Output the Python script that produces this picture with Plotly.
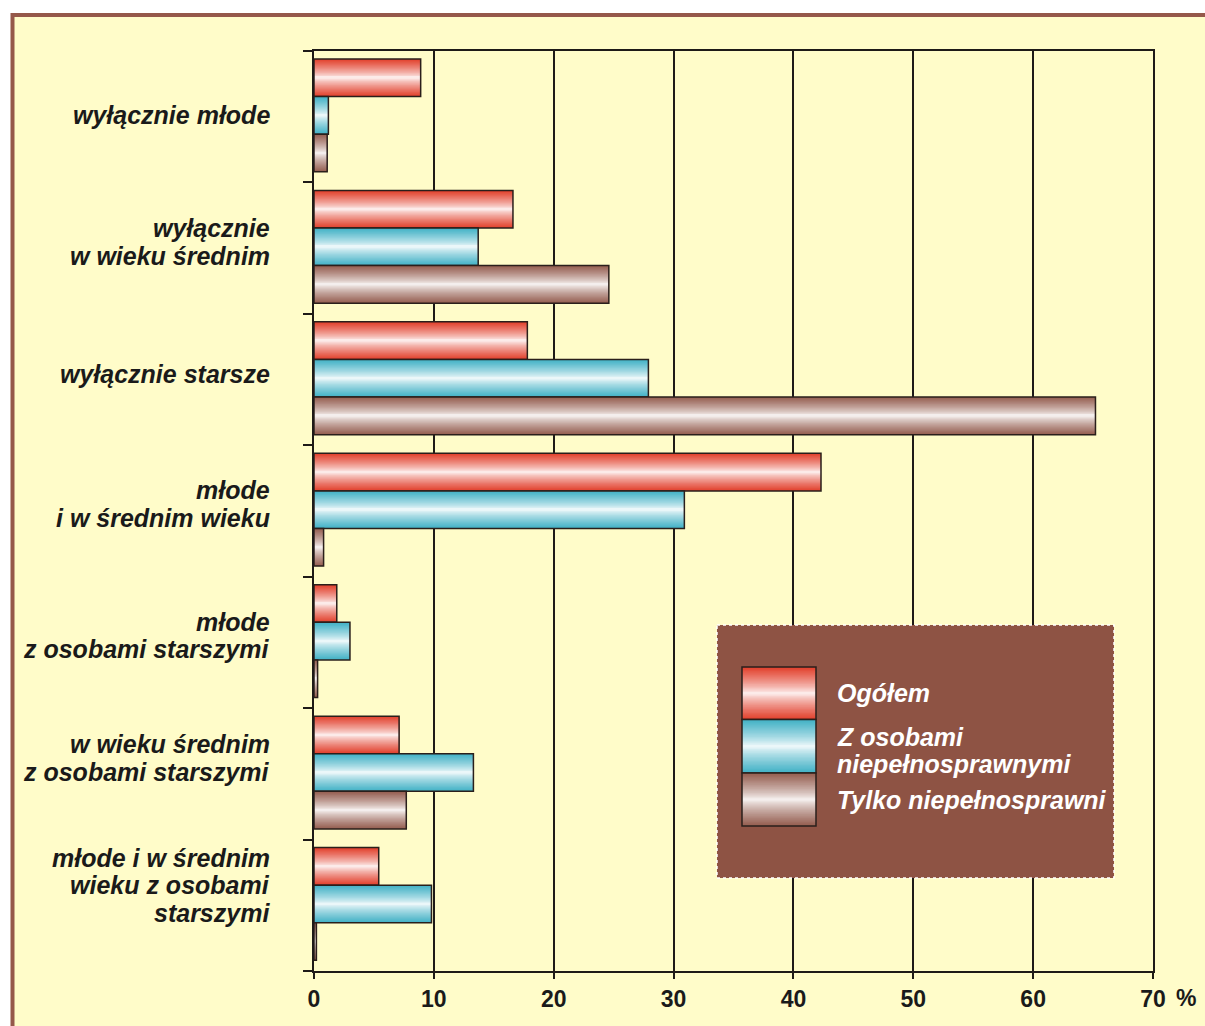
import plotly.graph_objects as go

# data (percent of households)
categories = [
    ["wyłącznie młode"],
    ["wyłącznie", "w wieku średnim"],
    ["wyłącznie starsze"],
    ["młode", "i w średnim wieku"],
    ["młode", "z osobami starszymi"],
    ["w wieku średnim", "z osobami starszymi"],
    ["młode i w średnim", "wieku z osobami", "starszymi"],
]
ogolem = [8.9, 16.6, 17.8, 42.3, 1.9, 7.1, 5.4]
z_niepelnosprawnymi = [1.2, 13.7, 27.9, 30.9, 3.0, 13.3, 9.8]
tylko_niepelnosprawni = [1.1, 24.6, 65.2, 0.8, 0.3, 7.7, 0.2]

series_names = ["Ogółem", "Z osobami niepełnosprawnymi", "Tylko niepełnosprawni"]
x_ticks = [0, 10, 20, 30, 40, 50, 60, 70]

# styling
EDGE_COLORS = [(226, 66, 46), (68, 178, 198), (150, 96, 82)]
OUTLINE = "#2a1f1b"
AXIS = "#1e1a17"
BG = "#fffcc9"
FRAME = "#95584a"
LEGEND_BG = "#8e5344"
FONT = "Liberation Sans, Arial, sans-serif"
N_LAYERS = 20
BAR_W = 0.286
FIRST_OFFSET = -0.439

W, H = 1205, 1026
L, R, T, B = 314, 52, 51, 55


def px_x(p):
    return (p - L) / (W - L - R)


def px_y(p):
    return (H - B - p) / (H - T - B)


def shade(rgb, d):
    # d: 0 at the middle of the bar (white), 1 at the edge (full colour)
    m = d ** 0.75
    r, g, b = [round(255 * (1 - m) + c * m) for c in rgb]
    return f"rgb({r},{g},{b})"


fig = go.Figure()
ypos = list(range(len(categories)))

# cylinder look: nested bars, each one thinner and lighter than the last
for j, values in enumerate([ogolem, z_niepelnosprawnymi, tylko_niepelnosprawni]):
    center = FIRST_OFFSET + j * BAR_W + BAR_W / 2
    for k in range(N_LAYERS):
        frac = 1 - k / N_LAYERS
        wk = BAR_W * frac
        fig.add_trace(go.Bar(
            x=values, y=ypos, orientation="h",
            width=wk, offset=center - wk / 2,
            marker=dict(color=shade(EDGE_COLORS[j], frac), line=dict(width=0)),
            showlegend=False, hoverinfo="skip",
        ))
    fig.add_trace(go.Bar(
        x=values, y=ypos, orientation="h",
        width=BAR_W, offset=center - BAR_W / 2,
        marker=dict(color="rgba(0,0,0,0)", line=dict(width=1.5, color=OUTLINE)),
        name=series_names[j], showlegend=False,
    ))

# category labels, one annotation per line so line spacing matches
label_shift = [-2, -6, -6, -7, -7, -16, -20]
LINE_H = 27.5
for i, lines in enumerate(categories):
    n = len(lines)
    for li, txt in enumerate(lines):
        fig.add_annotation(
            x=0, xref="paper", xanchor="right", xshift=-42,
            y=i, yref="y", yanchor="middle",
            yshift=-(label_shift[i] + (li - (n - 1) / 2) * LINE_H),
            text=txt, showarrow=False,
            font=dict(family=FONT, size=25, color="#1a1a1a", weight="bold", style="italic"),
        )

# "%" after the last x tick label
fig.add_annotation(
    x=70, xref="x", y=0, yref="paper", xshift=33, yshift=-27,
    xanchor="center", yanchor="middle",
    text="%", showarrow=False,
    font=dict(family=FONT, size=23, color="#1a1a1a", weight="bold"),
)

shapes = []
# page frame
shapes.append(dict(
    type="rect", xref="paper", yref="paper", layer="below",
    x0=px_x(12.5), x1=px_x(W + 20), y0=px_y(15), y1=px_y(H + 20),
    fillcolor=BG, line=dict(color=FRAME, width=4),
))
# legend box
shapes.append(dict(
    type="rect", xref="paper", yref="paper", layer="above",
    x0=px_x(717), x1=px_x(1114), y0=px_y(625), y1=px_y(878),
    fillcolor=LEGEND_BG, line=dict(color="white", width=1.5, dash="dot"),
))
sw_top = [667, 719.5, 773]
sw_h = [52.5, 53.5, 53]
for j in range(3):
    mid = sw_top[j] + sw_h[j] / 2
    for k in range(N_LAYERS):
        frac = 1 - k / N_LAYERS
        hh = sw_h[j] * frac / 2
        shapes.append(dict(
            type="rect", xref="paper", yref="paper", layer="above",
            x0=px_x(742), x1=px_x(816), y0=px_y(mid - hh), y1=px_y(mid + hh),
            fillcolor=shade(EDGE_COLORS[j], frac), line=dict(width=0),
        ))
    shapes.append(dict(
        type="rect", xref="paper", yref="paper", layer="above",
        x0=px_x(742), x1=px_x(816), y0=px_y(sw_top[j]), y1=px_y(sw_top[j] + sw_h[j]),
        fillcolor="rgba(0,0,0,0)", line=dict(width=1.5, color=OUTLINE),
    ))

legend_y = [693, 737, 764, 800]
legend_txt = ["Ogółem", "Z osobami", "niepełnosprawnymi", "Tylko niepełnosprawni"]
for ty, txt in zip(legend_y, legend_txt):
    fig.add_annotation(
        x=px_x(835), xref="paper", xanchor="left",
        y=px_y(ty), yref="paper", yanchor="middle",
        text=txt, showarrow=False,
        font=dict(family=FONT, size=25, color="white", weight="bold", style="italic"),
    )

fig.update_layout(
    width=W, height=H,
    margin=dict(l=L, r=R, t=T, b=B, pad=0),
    barmode="overlay",
    paper_bgcolor="white",
    plot_bgcolor="rgba(0,0,0,0)",
    shapes=shapes,
    showlegend=False,
    font=dict(family=FONT),
)
fig.update_xaxes(
    range=[0, 70],
    tickvals=x_ticks,
    ticktext=[str(v) for v in x_ticks],
    tickfont=dict(family=FONT, size=23, color="#1a1a1a", weight="bold"),
    ticks="outside", ticklen=6, tickwidth=2, tickcolor=AXIS,
    showline=True, linecolor=AXIS, linewidth=2, mirror=True,
    showgrid=True, gridcolor=AXIS, gridwidth=2,
    zeroline=False,
)
fig.update_yaxes(
    range=[len(categories) - 0.5, -0.5],
    tickvals=[i - 0.5 for i in range(len(categories) + 1)],
    showticklabels=False,
    ticks="outside", ticklen=9, tickwidth=2, tickcolor=AXIS,
    showline=True, linecolor=AXIS, linewidth=2, mirror=True,
    showgrid=False, zeroline=False,
)

# the page is photographed at exactly the figure size, so drop the default body margin
fig.write_html(
    "out.html",
    config={"displayModeBar": False},
    post_script="document.body.style.margin='0';document.body.style.overflow='hidden';",
)
